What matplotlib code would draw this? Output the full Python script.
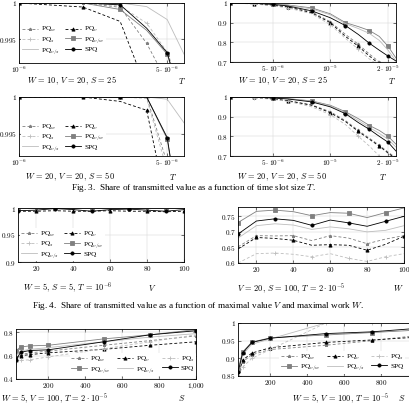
import matplotlib.pyplot as plt

plt.rcParams['font.family'] = 'serif'
plt.rcParams['font.serif'] = ['Liberation Serif', 'DejaVu Serif']
plt.rcParams['mathtext.fontset'] = 'cm'

# --- data -------------------------------------------------------------
T_small = [1e-6, 2e-6, 3e-6, 4e-6, 5e-6, 6e-6]
T_big = [3e-6, 4e-6, 5e-6, 6e-6, 8e-6, 1e-5, 1.2e-5, 1.4e-5, 1.6e-5, 1.8e-5, 2e-5, 2.2e-5]
V_vals = [10, 20, 30, 40, 50, 60, 70, 80, 90, 100]
W_vals = [10, 20, 30, 40, 50, 60, 70, 80, 90, 100]
S_vals = [25, 50, 100, 200, 500, 750, 1000]

# W=10, V=20, S=25, small T
a_w = [1, 1, 0.9994, 0.9944, 0.989, 0.982]
a_v = [1, 0.99944, 0.99744, 0.988, 0.98, 0.97]
a_s = [1, 1, 0.9996, 0.9972, 0.9932, 0.987]
a_vw = [1, 1, 0.9991, 0.9962, 0.9929, 0.985]
a_vs = [1, 1, 1, 0.9995, 0.9977, 0.9929]
a_spq = [1, 1, 0.99975, 0.9965, 0.9931, 0.985]

# W=10, V=20, S=25, large T
b_w = [1, 0.997, 0.99, 0.982, 0.955, 0.905, 0.84, 0.79, 0.74, 0.70, 0.67, 0.64]
b_v = [1, 0.996, 0.988, 0.98, 0.95, 0.9, 0.83, 0.78, 0.73, 0.69, 0.66, 0.63]
b_s = [1, 0.995, 0.986, 0.975, 0.945, 0.89, 0.82, 0.765, 0.715, 0.68, 0.65, 0.62]
b_vw = [1, 0.999, 0.996, 0.99, 0.975, 0.945, 0.9, 0.88, 0.86, 0.83, 0.78, 0.72]
b_vs = [1, 0.999, 0.995, 0.988, 0.97, 0.94, 0.895, 0.87, 0.845, 0.81, 0.76, 0.705]
b_spq = [1, 0.998, 0.993, 0.985, 0.96, 0.925, 0.885, 0.84, 0.795, 0.76, 0.73, 0.705]

# W=20, V=20, S=50, small T
c_w = [1, 1, 1, 1, 0.991, 0.978]
c_v = [1, 1, 0.9994, 0.9982, 0.985, 0.97]
c_s = [1, 1, 1, 0.9998, 0.99, 0.976]
c_vw = [1, 1, 1, 1, 0.9943, 0.98]
c_vs = [1, 1, 1, 1, 0.9997, 0.9965]
c_spq = [1, 1, 1, 1, 0.9945, 0.98]

# W=20, V=20, S=50, large T
d_w = [1, 0.998, 0.99, 0.982, 0.96, 0.925, 0.88, 0.83, 0.79, 0.755, 0.72, 0.69]
d_v = [1, 0.998, 0.99, 0.981, 0.958, 0.92, 0.875, 0.825, 0.785, 0.75, 0.715, 0.685]
d_s = [1, 0.997, 0.988, 0.978, 0.95, 0.91, 0.86, 0.8, 0.75, 0.7, 0.66, 0.63]
d_vw = [1, 0.999, 0.996, 0.992, 0.98, 0.958, 0.925, 0.89, 0.855, 0.83, 0.8, 0.76]
d_vs = [1, 0.999, 0.996, 0.991, 0.978, 0.955, 0.92, 0.88, 0.845, 0.815, 0.785, 0.745]
d_spq = [1, 0.999, 0.995, 0.99, 0.975, 0.95, 0.915, 0.87, 0.835, 0.8, 0.77, 0.725]

# W=5, S=5, T=1e-6, varying V
e_w = [1, 1, 1, 1, 1, 1, 1, 1, 1, 1]
e_v = [0.994, 0.994, 0.995, 0.994, 0.994, 0.995, 0.994, 0.994, 0.993, 0.994]
e_s = [1, 1, 1, 1, 1, 1, 1, 1, 1, 1]
e_vw = [1, 1, 1, 1, 1, 1, 1, 1, 1, 1]
e_vs = [1, 1, 1, 1, 1, 1, 1, 1, 1, 1]
e_spq = [0.995, 0.996, 0.999, 0.997, 0.994, 0.997, 0.998, 0.996, 0.994, 0.997]

# V=20, S=100, T=2e-5, varying W
f_w = [0.652, 0.688, 0.687, 0.688, 0.672, 0.688, 0.68, 0.662, 0.677, 0.688]
f_v = [0.645, 0.682, 0.679, 0.673, 0.657, 0.659, 0.657, 0.641, 0.66, 0.686]
f_s = [0.6, 0.63, 0.632, 0.628, 0.62, 0.63, 0.615, 0.605, 0.62, 0.63]
f_vw = [0.73, 0.766, 0.77, 0.765, 0.752, 0.762, 0.76, 0.746, 0.762, 0.777]
f_vs = [0.68, 0.72, 0.726, 0.722, 0.708, 0.716, 0.71, 0.7, 0.705, 0.72]
f_spq = [0.693, 0.735, 0.742, 0.737, 0.721, 0.738, 0.729, 0.718, 0.734, 0.75]

# W=5, V=100, T=2e-5, varying S
g_w = [0.58, 0.61, 0.625, 0.64, 0.69, 0.73, 0.77]
g_v = [0.57, 0.6, 0.61, 0.625, 0.655, 0.69, 0.72]
g_s = [0.55, 0.56, 0.565, 0.59, 0.66, 0.72, 0.78]
g_vw = [0.645, 0.675, 0.685, 0.69, 0.745, 0.78, 0.825]
g_vs = [0.6, 0.64, 0.655, 0.67, 0.72, 0.76, 0.79]
g_spq = [0.566, 0.63, 0.645, 0.651, 0.72, 0.78, 0.815]

# W=5, V=100, T=1e-5, varying S
h_w = [0.86, 0.89, 0.91, 0.925, 0.937, 0.95, 0.965]
h_v = [0.85, 0.895, 0.915, 0.93, 0.945, 0.952, 0.96]
h_s = [0.85, 0.875, 0.9, 0.925, 1.0, 1.0, 1.0]
h_vw = [0.868, 0.918, 0.946, 0.958, 0.966, 0.973, 0.98]
h_vs = [0.86, 0.91, 0.94, 0.955, 1.0, 1.0, 1.0]
h_spq = [0.86, 0.915, 0.945, 0.957, 0.97, 0.975, 0.985]

# --- styles -----------------------------------------------------------
GRAY = '#808080'
LIGHT = '#bdbdbd'
DASH = (0, (3.5, 2.5))
styles = {
    'w': dict(color=GRAY, ls=DASH, marker=(5, 2, 0), label=r'PQ$_w$'),
    'v': dict(color='black', ls=DASH, marker='^', label=r'PQ$_v$'),
    's': dict(color=LIGHT, ls=DASH, marker='+', label=r'PQ$_s$'),
    'vw': dict(color=GRAY, ls='-', marker='s', label=r'PQ$_{v/w}$'),
    'vs': dict(color=LIGHT, ls='-', marker=None, label=r'PQ$_{v/s}$'),
    'spq': dict(color='black', ls='-', marker='o', label='SPQ'),
}

FW, FH = 409, 408
fig = plt.figure(figsize=(FW / 100, FH / 100), dpi=100)
FS = 5.2


def make_ax(x0, x1, y0, y1):
    return fig.add_axes([x0 / FW, 1 - y1 / FH, (x1 - x0) / FW, (y1 - y0) / FH])


def draw(ax, x, series, every):
    handles = {}
    for key in ['w', 'v', 's', 'vw', 'vs', 'spq']:
        st = styles[key]
        h, = ax.plot(x, series[key], color=st['color'], ls=st['ls'], lw=0.6,
                     marker=st['marker'], ms=2.3, mew=0.6, markevery=every[key],
                     label=st['label'])
        handles[key] = h
    ax.grid(True, color='#d4d4d4', lw=0.35)
    ax.set_axisbelow(True)
    ax.tick_params(direction='in', length=2, width=0.4, labelsize=FS, pad=1.5,
                   top=True, right=True, which='major')
    ax.tick_params(which='minor', length=0)
    for sp in ax.spines.values():
        sp.set_linewidth(0.6)
    return handles


def ticks(ax, xt, xl, yt, yl):
    ax.set_xticks(xt)
    ax.set_xticklabels(xl)
    ax.set_yticks(yt)
    ax.set_yticklabels(yl)
    ax.minorticks_off()


def legend2(ax, h, anchor):
    order = ['w', 's', 'vs', 'v', 'vw', 'spq']
    ax.legend([h[k] for k in order], [styles[k]['label'] for k in order], ncol=2,
              loc='lower left', bbox_to_anchor=anchor, fontsize=FS, frameon=True,
              facecolor='white', edgecolor='none', framealpha=1, handlelength=2.2,
              handletextpad=0.4, columnspacing=0.8, labelspacing=0.15, borderpad=0.2,
              borderaxespad=0)


def legend3(ax, h, anchor):
    order = ['w', 'vw', 'v', 'vs', 's', 'spq']
    ax.legend([h[k] for k in order], [styles[k]['label'] for k in order], ncol=3,
              loc='lower right', bbox_to_anchor=anchor, fontsize=FS, frameon=True,
              facecolor='white', edgecolor='none', framealpha=1, handlelength=2.2,
              handletextpad=0.4, columnspacing=1.0, labelspacing=0.15, borderpad=0.2,
              borderaxespad=0)


ev_small = {'w': (1, 2), 'v': (1, 2), 's': (3, 2), 'vw': (0, 2), 'vs': None, 'spq': (0, 2)}
ev_big = {'w': (1, 2), 'v': (1, 2), 's': (1, 2), 'vw': (0, 2), 'vs': None, 'spq': (0, 2)}
ev_v = {'w': (1, 2), 'v': (1, 2), 's': (2, 2), 'vw': (0, 2), 'vs': None, 'spq': (0, 2)}
ev_s = {'w': 1, 'v': 1, 's': 1, 'vw': 1, 'vs': None, 'spq': 1}

lab_small = [r'$10^{-6}$', r'$5\cdot10^{-6}$']
lab_big = [r'$5\cdot10^{-6}$', r'$10^{-5}$', r'$2\cdot10^{-5}$']

# row 1
ax = make_ax(19, 184, 3, 63)
h = draw(ax, T_small, dict(w=a_w, v=a_v, s=a_s, vw=a_vw, vs=a_vs, spq=a_spq), ev_small)
ax.set_xscale('log')
ax.set_xlim(1e-6, 6e-6)
ax.set_ylim(0.99167, 1.0)
ticks(ax, [1e-6, 5e-6], lab_small, [0.995, 1.0], ['$0.995$', '$1$'])
legend2(ax, h, (0.01, 0.1))

ax = make_ax(230, 396, 3, 62)
draw(ax, T_big, dict(w=b_w, v=b_v, s=b_s, vw=b_vw, vs=b_vs, spq=b_spq), ev_big)
ax.set_xscale('log')
ax.set_xlim(3e-6, 2.2e-5)
ax.set_ylim(0.7, 1.0)
ticks(ax, [5e-6, 1e-5, 2e-5], lab_big, [0.7, 0.8, 0.9, 1.0],
      ['$0.7$', '$0.8$', '$0.9$', '$1$'])

# row 2
ax = make_ax(19, 184, 97, 156)
h = draw(ax, T_small, dict(w=c_w, v=c_v, s=c_s, vw=c_vw, vs=c_vs, spq=c_spq), ev_small)
ax.set_xscale('log')
ax.set_xlim(1e-6, 6e-6)
ax.set_ylim(0.992, 1.0)
ticks(ax, [1e-6, 5e-6], lab_small, [0.995, 1.0], ['$0.995$', '$1$'])
legend2(ax, h, (0.01, 0.03))

ax = make_ax(230, 396, 97, 156)
draw(ax, T_big, dict(w=d_w, v=d_v, s=d_s, vw=d_vw, vs=d_vs, spq=d_spq), ev_big)
ax.set_xscale('log')
ax.set_xlim(3e-6, 2.2e-5)
ax.set_ylim(0.7, 1.0)
ticks(ax, [5e-6, 1e-5, 2e-5], lab_big, [0.7, 0.8, 0.9, 1.0],
      ['$0.7$', '$0.8$', '$0.9$', '$1$'])

# row 3
ax = make_ax(18, 184, 208, 262)
h = draw(ax, V_vals, dict(w=e_w, v=e_v, s=e_s, vw=e_vw, vs=e_vs, spq=e_spq), ev_v)
ax.set_xlim(10, 100)
ax.set_ylim(0.9, 1.0)
ticks(ax, [20, 40, 60, 80, 100], ['$20$', '$40$', '$60$', '$80$', '$100$'],
      [0.9, 0.95, 1.0], ['$0.9$', '$0.95$', '$1$'])
legend2(ax, h, (0.01, 0.01))

ax = make_ax(238, 404, 207, 263)
draw(ax, W_vals, dict(w=f_w, v=f_v, s=f_s, vw=f_vw, vs=f_vs, spq=f_spq), ev_v)
ax.set_xlim(10, 100)
ax.set_ylim(0.6, 0.78)
ticks(ax, [20, 40, 60, 80, 100], ['$20$', '$40$', '$60$', '$80$', '$100$'],
      [0.6, 0.65, 0.7, 0.75], ['$0.6$', '$0.65$', '$0.7$', '$0.75$'])

# row 4
s_ticks = [200, 400, 600, 800, 1000]
s_labels = ['$200$', '$400$', '$600$', '$800$', '$1{,}000$']
ax = make_ax(16, 196, 329, 379)
h = draw(ax, S_vals, dict(w=g_w, v=g_v, s=g_s, vw=g_vw, vs=g_vs, spq=g_spq), ev_s)
ax.set_xlim(25, 1000)
ax.set_ylim(0.4, 0.83)
ticks(ax, s_ticks, s_labels, [0.4, 0.6, 0.8], ['$0.4$', '$0.6$', '$0.8$'])
legend3(ax, h, (1.0, 0.06))

ax = make_ax(238, 418, 323, 376)
h = draw(ax, S_vals, dict(w=h_w, v=h_v, s=h_s, vw=h_vw, vs=h_vs, spq=h_spq), ev_s)
ax.set_xlim(25, 1000)
ax.set_ylim(0.85, 1.0)
ticks(ax, s_ticks, s_labels, [0.85, 0.9, 0.95, 1.0],
      ['$0.85$', '$0.9$', '$0.95$', '$1$'])
legend3(ax, h, (0.93, 0.04))


# --- labels and captions ---------------------------------------------
def txt(x, y, s, ha='left', size=FS + 0.8):
    fig.text(x / FW, 1 - y / FH, s, ha=ha, va='center', fontsize=size)


txt(27, 81, r'$W\,=\,10,\,V\,=\,20,\,S\,=\,25$')
txt(182, 81, r'$T$', ha='center')
txt(238, 81, r'$W\,=\,10,\,V\,=\,20,\,S\,=\,25$')
txt(392, 81, r'$T$', ha='center')

txt(25, 177, r'$W\,=\,20,\,V\,=\,20,\,S\,=\,50$')
txt(173, 177, r'$T$', ha='center')
txt(237, 177, r'$W\,=\,20,\,V\,=\,20,\,S\,=\,50$')
txt(383, 177, r'$T$', ha='center')

txt(193, 188, r'Fig. 3.  Share of transmitted value as a function of time slot size $T$.',
    ha='center', size=6.6)

txt(23, 288, r'$W\,=\,5,\,S\,=\,5,\,T\,=\,10^{-6}$')
txt(152, 288, r'$V$', ha='center')
txt(237, 288, r'$V\,=\,20,\,S\,=\,100,\,T\,=\,2\cdot10^{-5}$')
txt(398, 288, r'$W$', ha='center')

txt(198, 306, r'Fig. 4.  Share of transmitted value as a function of maximal value $V$ '
    r'and maximal work $W$.', ha='center', size=6.6)

txt(1, 398, r'$W\,=\,5,\,V\,=\,100,\,T\,=\,2\cdot10^{-5}$')
txt(182, 398, r'$S$', ha='center')
txt(292, 398, r'$W\,=\,5,\,V\,=\,100,\,T\,=\,10^{-5}$')
txt(402, 398, r'$S$', ha='center')

fig.savefig('out.png', dpi=100)
